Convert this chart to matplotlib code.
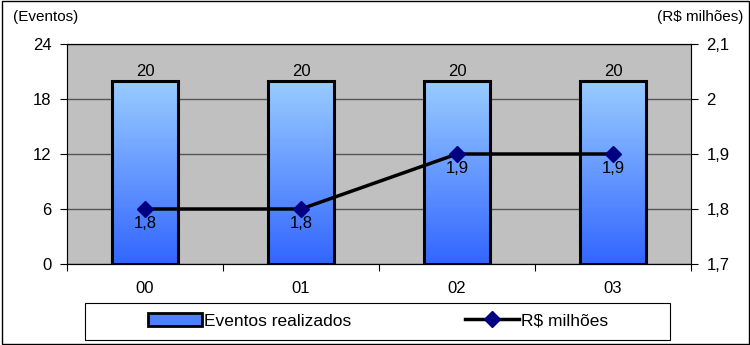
import numpy as np
import matplotlib
matplotlib.use("Agg")
from matplotlib import pyplot as plt
from matplotlib.patches import Rectangle
from matplotlib.lines import Line2D
from matplotlib.colors import LinearSegmentedColormap

# data
years = ["00", "01", "02", "03"]
eventos = [20, 20, 20, 20]
milhoes = [1.8, 1.8, 1.9, 1.9]
milhoes_labels = ["1,8", "1,8", "1,9", "1,9"]

plt.rcParams["font.family"] = ["Liberation Sans", "DejaVu Sans"]

fig = plt.figure(figsize=(7.5, 3.45), dpi=100)
ax = fig.add_axes([67 / 750, 1 - 264 / 345, 624 / 750, 220 / 345])
ax.set_facecolor("#c0c0c0")

x = np.arange(len(years))
width = 0.42
grad = LinearSegmentedColormap.from_list("g", ["#3366ff", "#99ccff"])
#bars with a vertical gradient, clipped to each bar
bars = ax.bar(x, eventos, width, facecolor="none", edgecolor="black", linewidth=2.2, zorder=3)
for b in bars:
    x0, w, h = b.get_x(), b.get_width(), b.get_height()
    img = ax.imshow(np.linspace(0, 1, 100).reshape(-1, 1), cmap=grad, origin="lower",
                    extent=[x0, x0 + w, 0, h], aspect="auto", zorder=2)
    img.set_clip_path(b)
    ax.text(x0 + w / 2, h + 0.2, str(h), ha="center", va="bottom", fontsize=12, zorder=5)

ax.set_xlim(-0.5, 3.5)
ax.set_ylim(0, 24)
ax.set_yticks([0, 6, 12, 18, 24])
ax.grid(axis="y", color="#555555", linewidth=1, zorder=0)
ax.set_axisbelow(True)
ax.set_xticks([-0.5, 0.5, 1.5, 2.5, 3.5])
ax.set_xticklabels([])
ax.set_xticks(x, minor=True)
ax.set_xticklabels(years, minor=True)
ax.tick_params(axis="x", which="minor", length=0, pad=12, labelsize=12)
ax.tick_params(axis="x", which="major", length=5, direction="out", color="black")
ax.tick_params(axis="y", length=5, direction="out", labelsize=12, pad=6)
for s in ["top", "right", "left", "bottom"]:
    ax.spines[s].set_color("black")
ax.spines["left"].set_color("#808080")
ax.spines["right"].set_color("#808080")

ax2 = ax.twinx()
ax2.plot(x, milhoes, color="black", linewidth=2.5, marker="D", markersize=8,
         markerfacecolor="#000080", markeredgecolor="#000080", zorder=6)
for xi, v, lab in zip(x, milhoes, milhoes_labels):
    ax2.text(xi, v - 0.013, lab, ha="center", va="top", fontsize=12)
ax2.set_ylim(1.7, 2.1)
ax2.set_yticks([1.7, 1.8, 1.9, 2.0, 2.1])
ax2.set_yticklabels(["1,7", "1,8", "1,9", "2", "2,1"])
ax2.tick_params(axis="y", length=5, direction="out", labelsize=12, pad=6)
ax2.spines["top"].set_color("black")

fig.text(13 / 750, 1 - 17 / 345, "(Eventos)", fontsize=11, va="center")
fig.text(743 / 750, 1 - 17 / 345, "(R$ milhões)", fontsize=11, va="center", ha="right")

#legend below the chart, box drawn separately
h1 = Rectangle((0, 0), 1, 1, facecolor="#4d80ff", edgecolor="black", linewidth=2)
h2 = Line2D([], [], color="black", linewidth=2.5, marker="D", markersize=8,
            markerfacecolor="#000080", markeredgecolor="#000080")
leg = fig.legend([h1, h2], ["Eventos realizados", "R$ milhões"], ncol=2,
                 loc="center", bbox_to_anchor=(378 / 750, 1 - 321 / 345),
                 frameon=False, fontsize=12.5, handlelength=3.1,
                 handletextpad=0.1, columnspacing=6.6, borderpad=0.5)
fig.patches.append(Rectangle((85 / 750, 1 - 340 / 345), 585 / 750, 37 / 345,
                             transform=fig.transFigure, fill=False,
                             edgecolor="black", linewidth=0.8))

fig.patches.append(Rectangle((0.002, 0.003), 0.996, 0.994, transform=fig.transFigure,
                             fill=False, edgecolor="black", linewidth=1))

fig.savefig("out.png", dpi=100)
